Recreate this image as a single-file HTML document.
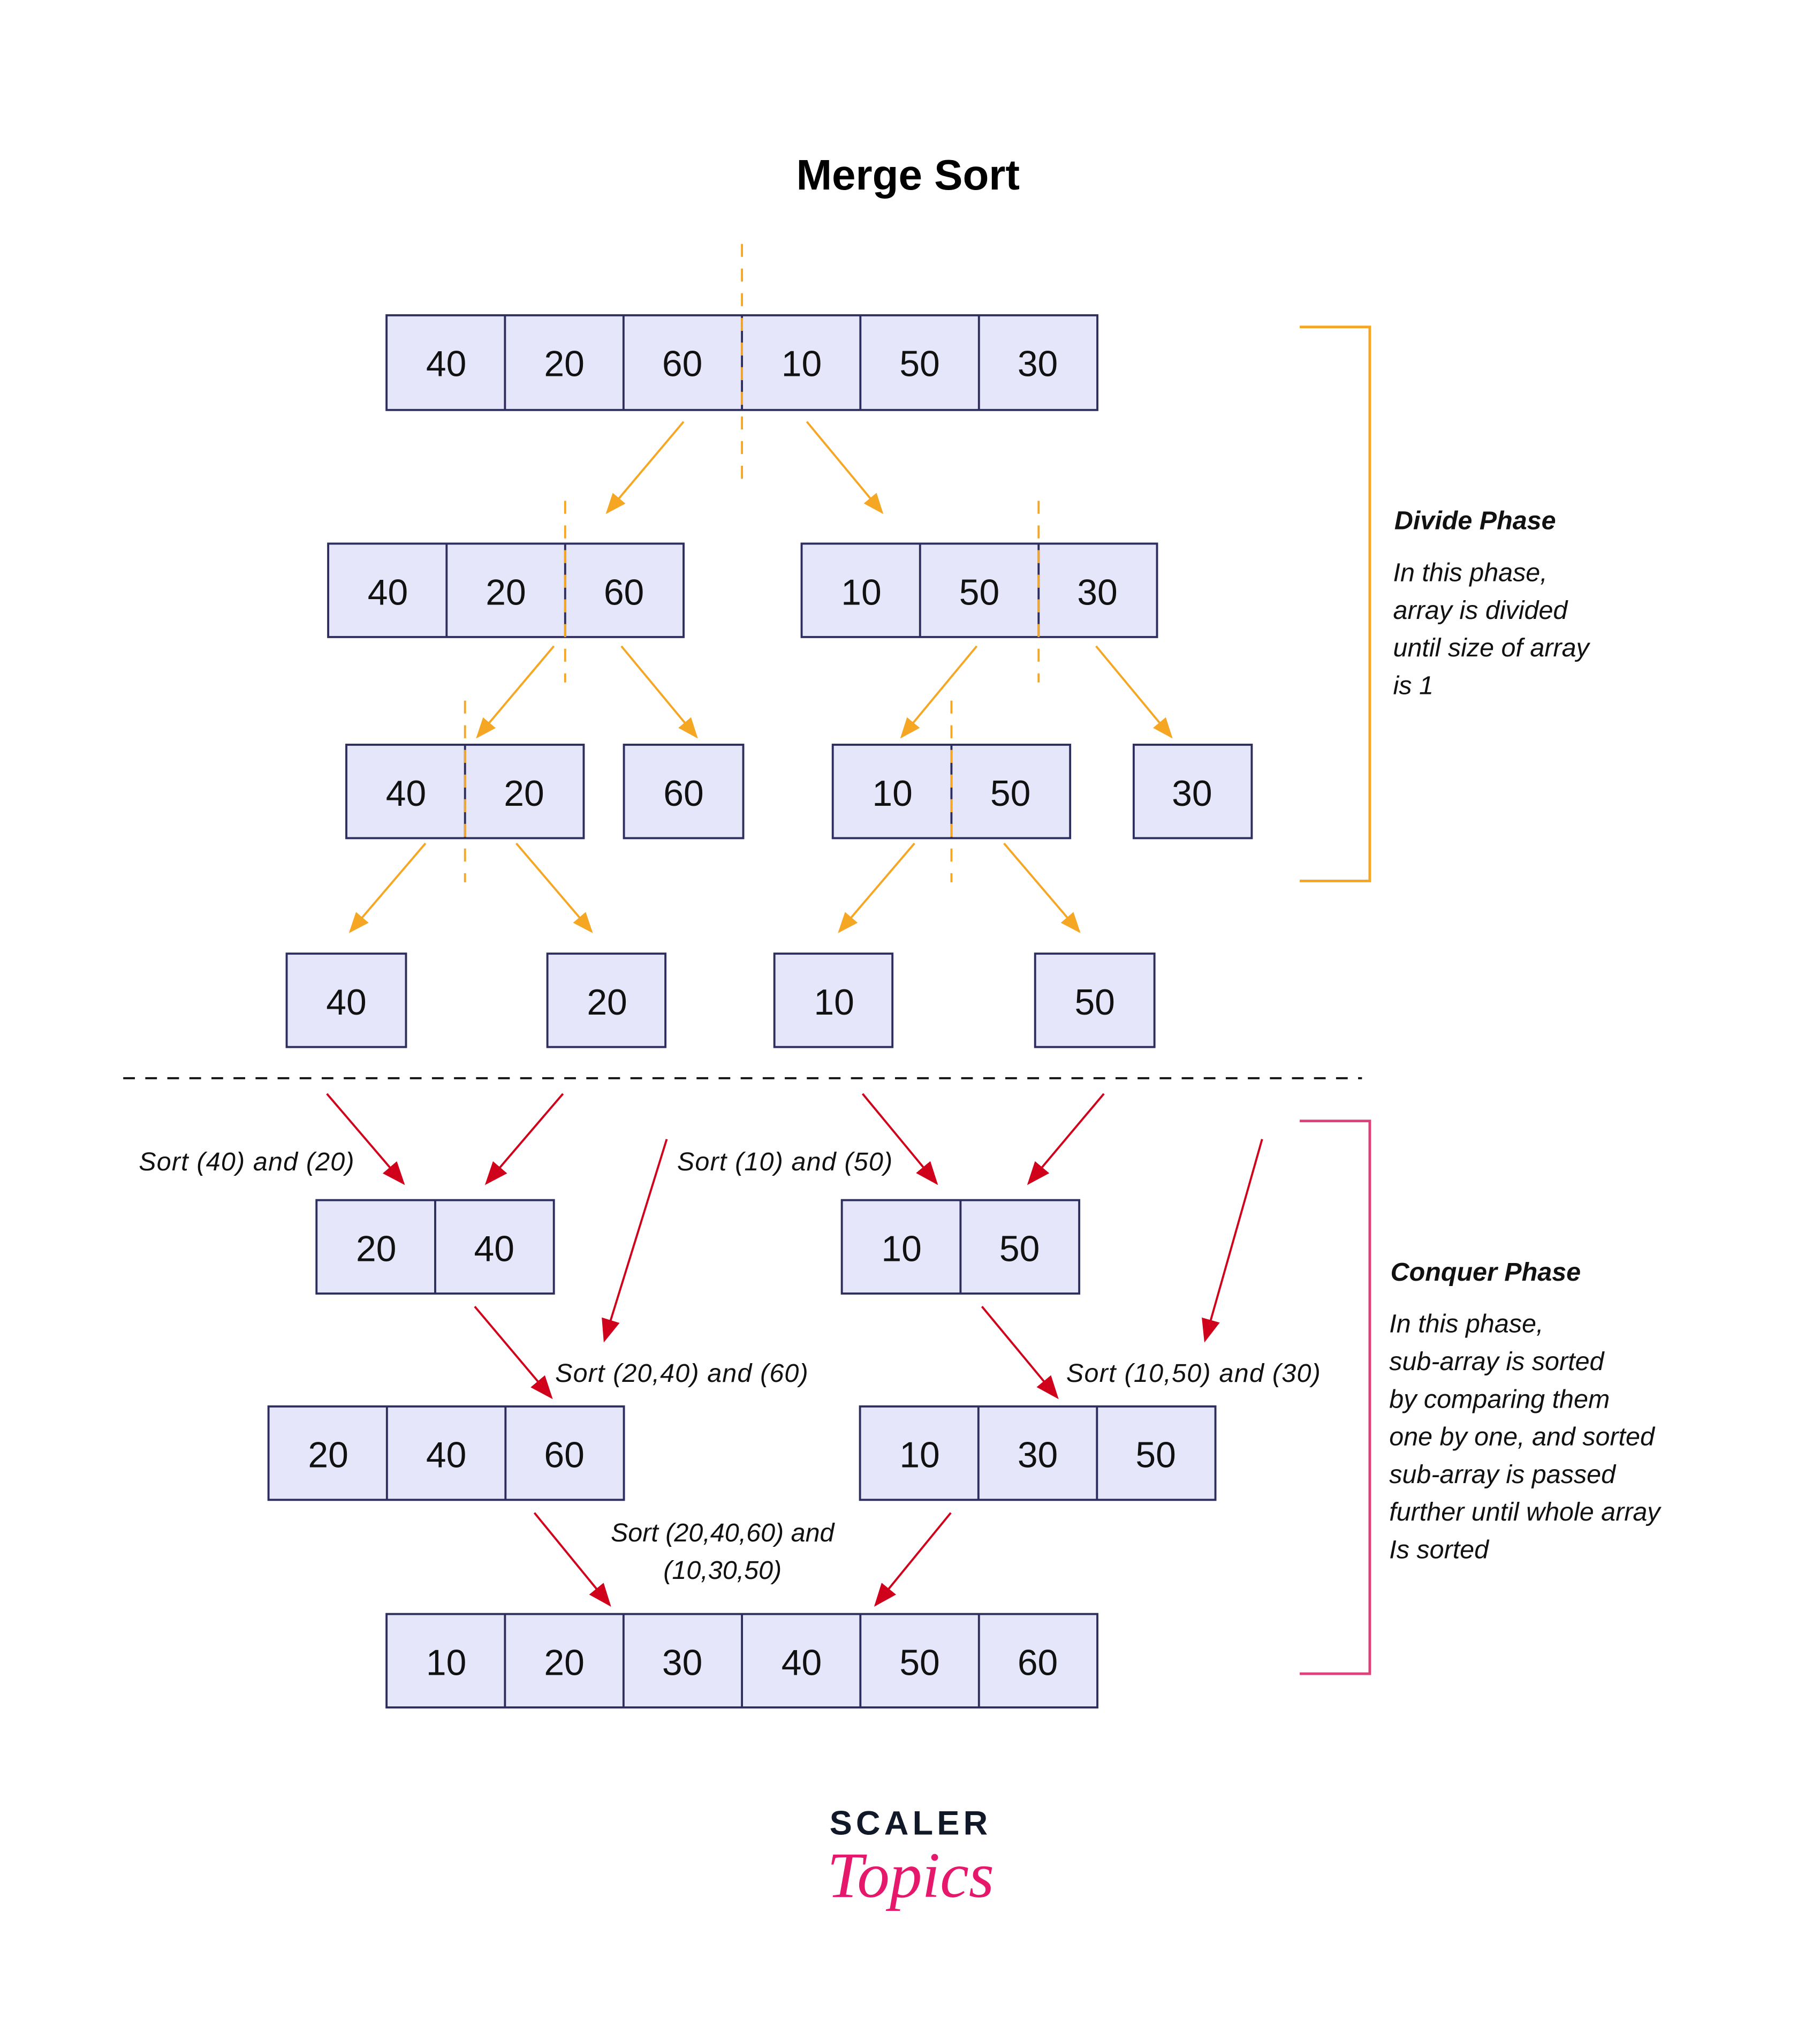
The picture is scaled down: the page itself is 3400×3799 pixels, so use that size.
<!DOCTYPE html>
<html><head><meta charset="utf-8"><style>html,body{margin:0;padding:0;background:#fff}svg{display:block}</style></head>
<body>
<svg width="3400" height="3799" viewBox="0 0 1403.1 1567.7" preserveAspectRatio="none" xmlns="http://www.w3.org/2000/svg" font-family="Liberation Sans, sans-serif">
<defs>
<marker id="o2" viewBox="0 0 10 10" refX="9" refY="5" markerWidth="16" markerHeight="16" orient="auto" markerUnits="userSpaceOnUse"><path d="M0,1 L10,5 L0,9 z" fill="#f5a623"/></marker>
<marker id="r2" viewBox="0 0 10 10" refX="9" refY="5" markerWidth="18" markerHeight="18" orient="auto" markerUnits="userSpaceOnUse"><path d="M0,1 L10,5 L0,9 z" fill="#d0021b"/></marker>
</defs>
<rect width="1403.1" height="1567.7" fill="#fff"/>
<text x="700" y="146" text-anchor="middle" font-size="33" font-weight="bold" fill="#000">Merge Sort</text>

<g fill="#e6e6fa" stroke="#2e2e5e" stroke-width="1.6">
<rect x="298" y="243" width="548" height="73"/>
<path d="M389.3,243V316M480.7,243V316M572,243V316M663.3,243V316M754.7,243V316"/>
<rect x="253" y="419" width="274" height="72"/><path d="M344.3,419V491M435.7,419V491"/>
<rect x="618" y="419" width="274" height="72"/><path d="M709.3,419V491M800.7,419V491"/>
<rect x="267" y="574" width="183" height="72"/><path d="M358.5,574V646"/>
<rect x="481" y="574" width="92" height="72"/>
<rect x="642" y="574" width="183" height="72"/><path d="M733.5,574V646"/>
<rect x="874" y="574" width="91" height="72"/>
<rect x="221" y="735" width="92" height="72"/>
<rect x="422" y="735" width="91" height="72"/>
<rect x="597" y="735" width="91" height="72"/>
<rect x="798" y="735" width="92" height="72"/>
<rect x="244" y="925" width="183" height="72"/><path d="M335.5,925V997"/>
<rect x="649" y="925" width="183" height="72"/><path d="M740.5,925V997"/>
<rect x="207" y="1084" width="274" height="72"/><path d="M298.3,1084V1156M389.7,1084V1156"/>
<rect x="663" y="1084" width="274" height="72"/><path d="M754.3,1084V1156M845.7,1084V1156"/>
<rect x="298" y="1244" width="548" height="72"/>
<path d="M389.3,1244V1316M480.7,1244V1316M572,1244V1316M663.3,1244V1316M754.7,1244V1316"/>
</g>

<g font-size="28" fill="#111" text-anchor="middle">
<text x="344" y="290">40</text><text x="435" y="290">20</text><text x="526" y="290">60</text><text x="618" y="290">10</text><text x="709" y="290">50</text><text x="800" y="290">30</text>
<text x="299" y="466">40</text><text x="390" y="466">20</text><text x="481" y="466">60</text>
<text x="664" y="466">10</text><text x="755" y="466">50</text><text x="846" y="466">30</text>
<text x="313" y="621">40</text><text x="404" y="621">20</text><text x="527" y="621">60</text>
<text x="688" y="621">10</text><text x="779" y="621">50</text><text x="919" y="621">30</text>
<text x="267" y="782">40</text><text x="468" y="782">20</text><text x="643" y="782">10</text><text x="844" y="782">50</text>
<text x="290" y="972">20</text><text x="381" y="972">40</text>
<text x="695" y="972">10</text><text x="786" y="972">50</text>
<text x="253" y="1131">20</text><text x="344" y="1131">40</text><text x="435" y="1131">60</text>
<text x="709" y="1131">10</text><text x="800" y="1131">30</text><text x="891" y="1131">50</text>
<text x="344" y="1291">10</text><text x="435" y="1291">20</text><text x="526" y="1291">30</text><text x="618" y="1291">40</text><text x="709" y="1291">50</text><text x="800" y="1291">60</text>
</g>

<g stroke="#f5a623" stroke-width="1.6" stroke-dasharray="10,9" fill="none">
<path d="M572,188V372"/><path d="M435.7,386V526"/><path d="M800.7,386V526"/>
<path d="M358.5,540V680"/><path d="M733.5,540V680"/>
</g>
<g stroke="#f5a623" stroke-width="1.6" fill="none" marker-end="url(#o2)">
<path d="M527,325L468,395"/><path d="M622,325L680,395"/>
<path d="M427,498L368,568"/><path d="M479,498L537,568"/>
<path d="M753,498L695,568"/><path d="M845,498L903,568"/>
<path d="M328,650L270,718"/><path d="M398,650L456,718"/>
<path d="M705,650L647,718"/><path d="M774,650L832,718"/>
</g>

<path d="M95,831H1050" stroke="#111" stroke-width="1.6" stroke-dasharray="9,8"/>

<g stroke="#d0021b" stroke-width="1.6" fill="none" marker-end="url(#r2)">
<path d="M252,843L311,912"/><path d="M434,843L375,912"/>
<path d="M514,878L466,1033"/>
<path d="M665,843L722,912"/><path d="M851,843L793,912"/>
<path d="M973,878L929,1033"/>
<path d="M366,1007L425,1077"/><path d="M757,1007L815,1077"/>
<path d="M412,1166L470,1237"/><path d="M733,1166L675,1237"/>
</g>

<g font-size="20" font-style="italic" fill="#111">
<text x="107" y="902" textLength="166">Sort (40) and (20)</text>
<text x="522" y="902" textLength="166">Sort (10) and (50)</text>
<text x="428" y="1065" textLength="195">Sort (20,40) and (60)</text>
<text x="822" y="1065" textLength="196">Sort (10,50) and (30)</text>
<text x="557" y="1188" text-anchor="middle">Sort (20,40,60) and</text>
<text x="557" y="1217" text-anchor="middle">(10,30,50)</text>
</g>

<path d="M1002,252H1056V679H1002" stroke="#f5a623" stroke-width="2" fill="none"/>
<path d="M1002,864H1056V1290H1002" stroke="#e0407a" stroke-width="2" fill="none"/>

<g font-size="20" font-style="italic" fill="#111">
<text x="1075" y="408" font-weight="bold">Divide Phase</text>
<text x="1074" y="448">In this phase,</text>
<text x="1074" y="477">array is divided</text>
<text x="1074" y="506">until size of array</text>
<text x="1074" y="535">is 1</text>
<text x="1072" y="987" font-weight="bold">Conquer Phase</text>
<text x="1071" y="1027">In this phase,</text>
<text x="1071" y="1056">sub-array is sorted</text>
<text x="1071" y="1085">by comparing them</text>
<text x="1071" y="1114">one by one, and sorted</text>
<text x="1071" y="1143">sub-array is passed</text>
<text x="1071" y="1172">further until whole array</text>
<text x="1071" y="1201">Is sorted</text>
</g>

<text x="702" y="1414" text-anchor="middle" font-size="26" font-weight="bold" letter-spacing="3" fill="#111827">SCALER</text>
<text x="702" y="1462" text-anchor="middle" font-size="50" font-style="italic" font-family="Liberation Serif, serif" fill="#e5186b">Topics</text>
</svg>
</body></html>
